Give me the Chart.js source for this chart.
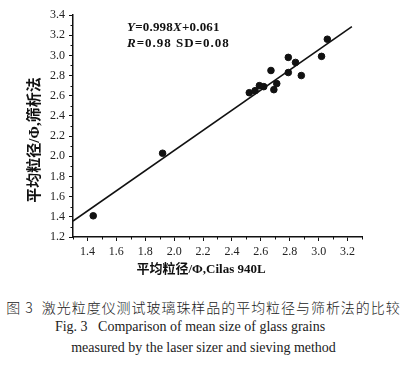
<!DOCTYPE html>
<html lang="zh">
<head>
  <meta charset="UTF-8" />
  <title>激光粒度仪与筛析法平均粒径比较</title>
  <script src="https://cdn.jsdelivr.net/npm/chart.js"></script>
  <style>
    body { margin: 0; background: #fff; width: 405px; height: 372px; position: relative; overflow: hidden; }
    #wrap { position: absolute; left: 0; top: 0; width: 405px; height: 285px; }
    .eq { position: absolute; left: 127px; font: bold 13px "Liberation Serif", serif; color: #111; line-height: 16px; white-space: nowrap; }
    .cap { position: absolute; font-family: "Liberation Serif", "Noto Sans CJK SC", serif; color: #222; white-space: nowrap; text-align: center; }
  </style>
</head>
<body>
  <div id="wrap"><canvas id="chart"></canvas></div>

  <!-- regression text -->
  <div class="eq" style="top:19px; letter-spacing:0.2px;"><i>Y</i>=0.998<i>X</i>+0.061</div>
  <div class="eq" style="top:35px; letter-spacing:1px;"><i>R</i>=0.98 SD=0.08</div>

  <!-- figure caption -->
  <div class="cap" style="left:0; top:297px; width:407px; font-size:14px; letter-spacing:0.95px; font-family:'Noto Sans CJK SC', sans-serif; font-weight:300;">图 3&nbsp;&nbsp;激光粒度仪测试玻璃珠样品的平均粒径与筛析法的比较</div>
  <div class="cap" style="left:0; top:319px; width:380px; font-size:14px;">Fig. 3&nbsp;&nbsp;&nbsp;Comparison of mean size of glass grains</div>
  <div class="cap" style="left:0; top:340px; width:407px; font-size:14px;">measured by the laser sizer and sieving method</div>

  <script>
    // Cilas 940L mean size (x) vs sieving mean size (y), in phi units
    const laserX = [1.44, 1.92, 2.52, 2.56, 2.59, 2.62, 2.67, 2.69, 2.71, 2.79, 2.79, 2.84, 2.88, 3.02, 3.06];
    const sieveY = [1.41, 2.03, 2.63, 2.65, 2.70, 2.69, 2.85, 2.66, 2.72, 2.98, 2.83, 2.93, 2.80, 2.99, 3.16];

    // fitted line Y = 0.998X + 0.061, ends as drawn in the figure
    const fitX = [1.30, 3.23];
    const fitY = [1.358, 3.285];

    const xMin = 1.3, xMax = 3.3;
    const yMin = 1.2, yMax = 3.4;

    const tickFont = { family: "'Liberation Serif', serif", size: 12 };
    const isMajor = v => Math.abs(v * 5 - Math.round(v * 5)) < 1e-6;
    const isMinor = v => !isMajor(v) && Math.abs(v * 10 - Math.round(v * 10)) < 1e-6;

    // minor ticks and axis titles
    const extras = {
      id: 'extras',
      afterDraw(chart) {
        const ctx = chart.ctx;
        const xs = chart.scales.x, ys = chart.scales.y;
        ctx.save();
        ctx.strokeStyle = '#111';
        ctx.lineWidth = 1;
        xs.ticks.forEach(t => {
          if (!isMinor(t.value)) return;
          const px = Math.round(xs.getPixelForValue(t.value)) + 0.5;
          ctx.beginPath();
          ctx.moveTo(px, xs.top);
          ctx.lineTo(px, xs.top + 2.5);
          ctx.stroke();
        });
        ys.ticks.forEach(t => {
          if (!isMinor(t.value)) return;
          const py = Math.round(ys.getPixelForValue(t.value)) + 0.5;
          ctx.beginPath();
          ctx.moveTo(ys.right, py);
          ctx.lineTo(ys.right - 2.5, py);
          ctx.stroke();
        });

        ctx.fillStyle = '#111';
        ctx.textAlign = 'center';
        ctx.textBaseline = 'middle';
        ctx.font = 'bold 13px "Liberation Serif", "Noto Sans CJK SC", serif';
        ctx.fillText('平均粒径/Φ,Cilas 940L', 201, 270);

        ctx.translate(35, 140);
        ctx.rotate(-Math.PI / 2);
        ctx.font = 'bold 15px "Liberation Serif", "Noto Sans CJK SC", serif';
        ctx.fillText('平均粒径/Φ,筛析法', 0, 0);
        ctx.restore();
      }
    };

    new Chart(document.getElementById('chart'), {
      type: 'scatter',
      data: {
        datasets: [
          {
            type: 'line',
            data: fitX.map((x, i) => ({ x, y: fitY[i] })),
            borderColor: '#111',
            borderWidth: 1.6,
            pointRadius: 0,
            fill: false
          },
          {
            data: laserX.map((x, i) => ({ x, y: sieveY[i] })),
            backgroundColor: '#111',
            borderColor: '#111',
            pointRadius: 3.3,
            pointHoverRadius: 3.3
          }
        ]
      },
      options: {
        responsive: true,
        maintainAspectRatio: false,
        animation: false,
        layout: { padding: { top: 15, right: 43, left: 0, bottom: 0 } },
        plugins: { legend: { display: false }, tooltip: { enabled: false } },
        scales: {
          x: {
            type: 'linear',
            min: xMin, max: xMax,
            afterFit: s => { s.height = 48; },
            border: { color: '#111', width: 1.5 },
            grid: {
              drawOnChartArea: false, tickLength: 4, tickWidth: 1,
              tickColor: c => isMajor(c.tick.value) ? '#111' : 'rgba(0,0,0,0)'
            },
            ticks: {
              stepSize: 0.1, autoSkip: false, maxRotation: 0, padding: 4,
              color: '#222', font: tickFont,
              callback: v => isMajor(v) ? v.toFixed(1) : ''
            }
          },
          y: {
            type: 'linear',
            min: yMin, max: yMax,
            afterFit: s => { s.width = 73; },
            border: { color: '#111', width: 1.5 },
            grid: {
              drawOnChartArea: false, tickLength: 4, tickWidth: 1,
              tickColor: c => isMajor(c.tick.value) ? '#111' : 'rgba(0,0,0,0)'
            },
            ticks: {
              stepSize: 0.1, autoSkip: false, padding: 4,
              color: '#222', font: tickFont,
              callback: v => isMajor(v) ? v.toFixed(1) : ''
            }
          }
        }
      },
      plugins: [extras]
    });
  </script>
</body>
</html>
